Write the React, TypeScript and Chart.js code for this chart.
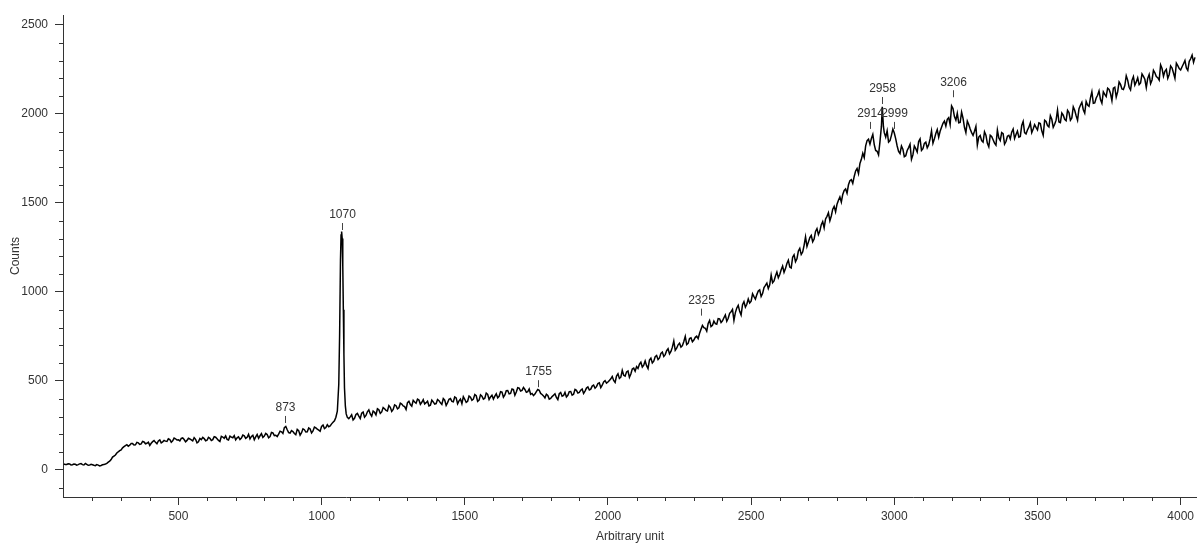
import { useEffect, useRef } from "react";
import { Chart, registerables } from "chart.js";

Chart.register(...registerables);

// Raman shift (x) sampling points
const shift = [
  100, 110, 120, 130, 140, 150, 160, 170, 180, 190,
  200, 210, 220, 230, 240, 250, 260, 270, 280, 290,
  300, 310, 320, 330, 340, 350, 360, 370, 380, 390,
  400, 410, 420, 430, 440, 450, 460, 470, 480, 490,
  500, 510, 520, 530, 540, 550, 560, 570, 580, 590,
  600, 610, 620, 630, 640, 650, 660, 670, 680, 690,
  700, 710, 720, 730, 740, 750, 760, 770, 780, 790,
  800, 810, 820, 830, 840, 850, 860, 870, 880, 890,
  900, 910, 920, 930, 940, 950, 960, 970, 980, 990,
  1000, 1010, 1020, 1030, 1040,
  1045, 1050, 1055, 1060, 1063, 1066, 1068, 1070, 1072, 1074, 1076, 1078, 1080, 1083, 1086, 1090,
  1100, 1110, 1120, 1130, 1140, 1150, 1160, 1170, 1180, 1190,
  1200, 1210, 1220, 1230, 1240, 1250, 1260, 1270, 1280, 1290,
  1300, 1310, 1320, 1330, 1340, 1350, 1360, 1370, 1380, 1390,
  1400, 1410, 1420, 1430, 1440, 1450, 1460, 1470, 1480, 1490,
  1500, 1510, 1520, 1530, 1540, 1550, 1560, 1570, 1580, 1590,
  1600, 1610, 1620, 1630, 1640, 1650, 1660, 1670, 1680, 1690,
  1700, 1710, 1720, 1730, 1740, 1750, 1760, 1770, 1780, 1790,
  1800, 1810, 1820, 1830, 1840, 1850, 1860, 1870, 1880, 1890,
  1900, 1910, 1920, 1930, 1940, 1950, 1960, 1970, 1980, 1990,
  2000, 2010, 2020, 2030, 2040, 2050, 2060, 2070, 2080, 2090,
  2100, 2110, 2120, 2130, 2140, 2150, 2160, 2170, 2180, 2190,
  2200, 2210, 2220, 2230, 2240, 2250, 2260, 2270, 2280, 2290,
  2300, 2310, 2320, 2330, 2340, 2350, 2360, 2370, 2380, 2390,
  2400, 2410, 2420, 2430, 2440, 2450, 2460, 2470, 2480, 2490,
  2500, 2510, 2520, 2530, 2540, 2550, 2560, 2570, 2580, 2590,
  2600, 2610, 2620, 2630, 2640, 2650, 2660, 2670, 2680, 2690,
  2700, 2710, 2720, 2730, 2740, 2750, 2760, 2770, 2780, 2790,
  2800, 2810, 2820, 2830, 2840, 2850, 2860, 2870, 2880, 2890,
  2900, 2910, 2920, 2930, 2940, 2950,
  2955, 2958, 2962,
  2970, 2980, 2990,
  3000, 3010, 3020, 3030, 3040, 3050, 3060, 3070, 3080, 3090,
  3100, 3110, 3120, 3130, 3140, 3150, 3160, 3170, 3180, 3190,
  3200, 3210, 3220, 3230, 3240, 3250, 3260, 3270, 3280, 3290,
  3300, 3310, 3320, 3330, 3340, 3350, 3360, 3370, 3380, 3390,
  3400, 3410, 3420, 3430, 3440, 3450, 3460, 3470, 3480, 3490,
  3500, 3510, 3520, 3530, 3540, 3550, 3560, 3570, 3580, 3590,
  3600, 3610, 3620, 3630, 3640, 3650, 3660, 3670, 3680, 3690,
  3700, 3710, 3720, 3730, 3740, 3750, 3760, 3770, 3780, 3790,
  3800, 3810, 3820, 3830, 3840, 3850, 3860, 3870, 3880, 3890,
  3900, 3910, 3920, 3930, 3940, 3950, 3960, 3970, 3980, 3990,
  4000, 4010, 4020, 4030, 4040, 4050,
];

// Counts (same order as shift)
const counts = [
  33, 31, 34, 29, 32, 30, 36, 28, 31, 27,
  29, 24, 27, 25, 30, 37, 49, 72, 84, 102,
  113, 131, 142, 139, 148, 141, 152, 146, 157, 150,
  138, 159, 155, 163, 152, 166, 160, 171, 164, 175,
  169, 177, 171, 166, 174, 163, 172, 158, 170, 176,
  167, 178, 170, 184, 166, 189, 178, 172, 190, 181,
  169, 186, 179, 192, 183, 174, 195, 186, 178, 204,
  190, 199, 187, 208, 195, 201, 214, 238, 226, 207,
  216, 198, 221, 209, 226, 214, 230, 219, 236, 224,
  245, 232, 254, 247, 268,
  276, 296, 330, 480, 760, 1180, 1320, 1340, 1300, 1150, 900, 650, 460, 360, 315, 295,
  298, 281, 312, 302, 319, 296, 327, 315, 331, 309,
  338, 326, 344, 331, 352, 340, 361, 349, 370, 356,
  378, 367, 391, 375, 393, 380, 371, 386, 364, 382,
  373, 389, 368, 392, 378, 401, 383, 405, 388, 372,
  397, 386, 409, 398, 417, 392, 414, 403, 425, 410,
  398, 428, 414, 437, 421, 446, 430, 452, 438, 460,
  447, 452, 440, 425, 418, 440, 448, 424, 405, 418,
  402, 420, 407, 428, 414, 436, 419, 441, 425, 447,
  436, 455, 443, 466, 454, 477, 468, 489, 476, 502,
  494, 512, 503, 528, 514, 560, 527, 556, 539, 572,
  581, 594, 578, 612, 570, 628, 611, 643, 629, 662,
  648, 681, 666, 725, 684, 712, 698, 750, 711, 742,
  730, 752, 768, 812, 796, 823, 805, 836, 819, 849,
  838, 871, 852, 889, 840, 910, 891, 928, 915, 960,
  948, 974, 985, 1012, 991, 1037, 1019, 1095, 1062, 1112,
  1098, 1146, 1131, 1178, 1135, 1209, 1186, 1245, 1224, 1310,
  1280, 1318, 1297, 1356, 1342, 1395, 1410, 1445, 1427, 1481,
  1493, 1534, 1548, 1579, 1602, 1631, 1649, 1694, 1722, 1779,
  1821, 1858, 1862, 1828, 1790, 1845,
  1930, 2040, 1930,
  1870, 1842, 1880,
  1893, 1820, 1778, 1802, 1765, 1811, 1745, 1820, 1786, 1860,
  1805, 1842, 1826, 1905, 1860, 1912, 1903, 1948, 1932, 1979,
  2045, 1985, 2004, 1952, 1976, 1895, 1941, 1895, 1903, 1825,
  1879, 1842, 1881, 1815, 1873, 1836, 1910, 1851, 1889, 1845,
  1880, 1898, 1862, 1904, 1874, 1958, 1888, 1926, 1895, 1940,
  1911, 1946, 1880, 1958, 1927, 1970, 1942, 2022, 1951, 1993,
  1962, 2008, 1978, 2021, 1965, 2049, 2024, 2070, 2043, 2125,
  2062, 2105, 2081, 2124, 2098, 2138, 2075, 2150, 2124, 2166,
  2137, 2215, 2150, 2189, 2162, 2203, 2174, 2211, 2148, 2222,
  2191, 2231, 2204, 2275, 2212, 2251, 2222, 2258, 2200, 2271,
  2247, 2282, 2259, 2296, 2330, 2318,
];

// Additional in-between samples (half steps)
const shiftMid = [
  105, 115, 125, 135, 145, 155, 165, 175, 185, 195,
  205, 215, 225, 235, 245, 255, 265, 275, 285, 295,
  305, 315, 325, 335, 345, 355, 365, 375, 385, 395,
  405, 415, 425, 435, 445, 455, 465, 475, 485, 495,
  505, 515, 525, 535, 545, 555, 565, 575, 585, 595,
  605, 615, 625, 635, 645, 655, 665, 675, 685, 695,
  705, 715, 725, 735, 745, 755, 765, 775, 785, 795,
  805, 815, 825, 835, 845, 855, 865, 875, 885, 895,
  905, 915, 925, 935, 945, 955, 965, 975, 985, 995,
  1005, 1015, 1025, 1035,
  1095,
  1105, 1115, 1125, 1135, 1145, 1155, 1165, 1175, 1185, 1195,
  1205, 1215, 1225, 1235, 1245, 1255, 1265, 1275, 1285, 1295,
  1305, 1315, 1325, 1335, 1345, 1355, 1365, 1375, 1385, 1395,
  1405, 1415, 1425, 1435, 1445, 1455, 1465, 1475, 1485, 1495,
  1505, 1515, 1525, 1535, 1545, 1555, 1565, 1575, 1585, 1595,
  1605, 1615, 1625, 1635, 1645, 1655, 1665, 1675, 1685, 1695,
  1705, 1715, 1725, 1735, 1745, 1755, 1765, 1775, 1785, 1795,
  1805, 1815, 1825, 1835, 1845, 1855, 1865, 1875, 1885, 1895,
  1905, 1915, 1925, 1935, 1945, 1955, 1965, 1975, 1985, 1995,
  2005, 2015, 2025, 2035, 2045, 2055, 2065, 2075, 2085, 2095,
  2105, 2115, 2125, 2135, 2145, 2155, 2165, 2175, 2185, 2195,
  2205, 2215, 2225, 2235, 2245, 2255, 2265, 2275, 2285, 2295,
  2305, 2315, 2325, 2335, 2345, 2355, 2365, 2375, 2385, 2395,
  2405, 2415, 2425, 2435, 2445, 2455, 2465, 2475, 2485, 2495,
  2505, 2515, 2525, 2535, 2545, 2555, 2565, 2575, 2585, 2595,
  2605, 2615, 2625, 2635, 2645, 2655, 2665, 2675, 2685, 2695,
  2705, 2715, 2725, 2735, 2745, 2755, 2765, 2775, 2785, 2795,
  2805, 2815, 2825, 2835, 2845, 2855, 2865, 2875, 2885, 2895,
  2905, 2915, 2925, 2935, 2945,
  2965,
  2975, 2985, 2995,
  3005, 3015, 3025, 3035, 3045, 3055, 3065, 3075, 3085, 3095,
  3105, 3115, 3125, 3135, 3145, 3155, 3165, 3175, 3185, 3195,
  3205, 3215, 3225, 3235, 3245, 3255, 3265, 3275, 3285, 3295,
  3305, 3315, 3325, 3335, 3345, 3355, 3365, 3375, 3385, 3395,
  3405, 3415, 3425, 3435, 3445, 3455, 3465, 3475, 3485, 3495,
  3505, 3515, 3525, 3535, 3545, 3555, 3565, 3575, 3585, 3595,
  3605, 3615, 3625, 3635, 3645, 3655, 3665, 3675, 3685, 3695,
  3705, 3715, 3725, 3735, 3745, 3755, 3765, 3775, 3785, 3795,
  3805, 3815, 3825, 3835, 3845, 3855, 3865, 3875, 3885, 3895,
  3905, 3915, 3925, 3935, 3945, 3955, 3965, 3975, 3985, 3995,
  4005, 4015, 4025, 4035, 4045,
];

const countsMid = [
  30, 35, 28, 33, 27, 34, 30, 36, 26, 32,
  26, 30, 23, 29, 33, 44, 58, 78, 95, 108,
  124, 137, 133, 148, 140, 155, 143, 160, 147, 156,
  150, 165, 147, 169, 158, 162, 175, 156, 179, 168,
  163, 180, 158, 178, 169, 181, 152, 177, 183, 164,
  183, 165, 187, 175, 160, 185, 191, 168, 184, 193,
  180, 171, 196, 177, 200, 188, 170, 199, 192, 183,
  205, 181, 211, 193, 188, 218, 205, 244, 210, 221,
  205, 228, 195, 231, 213, 236, 208, 241, 229, 218,
  252, 238, 243, 259,
  288,
  310, 290, 318, 289, 325, 306, 338, 302, 324, 344,
  318, 351, 335, 362, 329, 366, 343, 375, 360, 340,
  386, 358, 382, 398, 369, 395, 378, 360, 392, 370,
  396, 377, 401, 362, 397, 385, 410, 372, 398, 412,
  380, 415, 391, 424, 385, 422, 398, 432, 396, 420,
  415, 405, 440, 409, 445, 428, 455, 420, 462, 443,
  463, 436, 455, 430, 426, 452, 430, 416, 425, 398,
  412, 428, 395, 435, 418, 410, 440, 420, 452, 432,
  448, 430, 460, 449, 471, 459, 485, 462, 495, 488,
  503, 525, 492, 540, 521, 532, 551, 520, 567, 555,
  570, 605, 589, 586, 618, 601, 636, 620, 655, 638,
  670, 652, 690, 672, 703, 690, 722, 704, 738, 720,
  745, 738, 790, 800, 780, 840, 812, 822, 850, 828,
  855, 835, 880, 902, 884, 925, 870, 945, 931, 938,
  990, 960, 1005, 975, 1025, 1050, 1040, 1052, 1090, 1080,
  1125, 1110, 1160, 1140, 1195, 1170, 1230, 1210, 1262, 1255,
  1305, 1282, 1340, 1322, 1378, 1360, 1425, 1400, 1465, 1450,
  1515, 1505, 1570, 1555, 1625, 1610, 1680, 1665, 1745, 1755,
  1850, 1830, 1885, 1795, 1770,
  1895,
  1905, 1850, 1915,
  1860, 1790, 1820, 1760, 1795, 1830, 1770, 1805, 1845, 1795,
  1835, 1810, 1860, 1835, 1890, 1870, 1925, 1960, 1970, 1940,
  2030, 1965, 1950, 2010, 1925, 1960, 1915, 1880, 1930, 1870,
  1850, 1900, 1835, 1880, 1855, 1825, 1865, 1895, 1830, 1875,
  1860, 1915, 1885, 1870, 1935, 1895, 1910, 1950, 1915, 1925,
  1950, 1905, 1965, 1935, 1990, 1925, 1965, 1955, 2005, 1970,
  2020, 1965, 2040, 1990, 2030, 2065, 2005, 2050, 2090, 2060,
  2090, 2130, 2060, 2110, 2145, 2115, 2145, 2095, 2180, 2140,
  2160, 2190, 2135, 2210, 2180, 2165, 2225, 2195, 2200, 2170,
  2245, 2210, 2190, 2255, 2240, 2200, 2270, 2230, 2285, 2255,
  2265, 2300, 2245, 2310, 2290,
];

// Peak annotations
const peakPositions = [873, 1070, 1755, 2325, 2914, 2958, 2999, 3206];
const peakLabels = ["873", "1070", "1755", "2325", "2914", "2958", "2999", "3206"];
const peakLabelHeights = [264, 1348, 465, 867, 1916, 2056, 1916, 2094];

// Axis ticks
const xMajorTicks = [500, 1000, 1500, 2000, 2500, 3000, 3500, 4000];
const yMajorTicks = [0, 500, 1000, 1500, 2000, 2500];
const MINOR_STEP = 100;
const MAJOR_STEP = 500;

const X_MIN = 97;
const X_MAX = 4057;
const Y_MIN = -152;
const Y_MAX = 2556;

const FONT = '"Liberation Sans", Arial, sans-serif';
const AXIS_COLOR = "#333333";
const TEXT_COLOR = "#333333";

const annotationsPlugin = {
  id: "minorTicksAndPeaks",
  afterDraw(chart: any) {
    const { ctx, chartArea, scales } = chart;
    const x = scales.x;
    const y = scales.y;
    ctx.save();
    ctx.strokeStyle = AXIS_COLOR;
    ctx.lineWidth = 1;
    ctx.beginPath();
    for (let v = Math.ceil(X_MIN / MINOR_STEP) * MINOR_STEP; v <= X_MAX; v += MINOR_STEP) {
      if (v % MAJOR_STEP === 0) continue;
      const px = Math.round(x.getPixelForValue(v)) + 0.5;
      if (px < chartArea.left + 2) continue;
      ctx.moveTo(px, chartArea.bottom);
      ctx.lineTo(px, chartArea.bottom + 4);
    }
    for (let v = Math.ceil(Y_MIN / MINOR_STEP) * MINOR_STEP; v <= Y_MAX; v += MINOR_STEP) {
      if (v % MAJOR_STEP === 0) continue;
      const py = Math.round(y.getPixelForValue(v)) + 0.5;
      ctx.moveTo(chartArea.left, py);
      ctx.lineTo(chartArea.left - 4, py);
    }
    ctx.stroke();

    ctx.font = `12px ${FONT}`;
    ctx.fillStyle = TEXT_COLOR;
    ctx.textAlign = "center";
    ctx.textBaseline = "middle";
    ctx.strokeStyle = "#444444";
    for (let i = 0; i < peakPositions.length; i++) {
      const px = Math.round(x.getPixelForValue(peakPositions[i])) + 0.5;
      const pb = y.getPixelForValue(peakLabelHeights[i]);
      const pt = pb - 7;
      ctx.beginPath();
      ctx.moveTo(px, pb);
      ctx.lineTo(px, pt);
      ctx.stroke();
      ctx.fillText(peakLabels[i], px, pt - 8);
    }
    ctx.restore();
  },
};

export default function App() {
  const canvasRef = useRef<HTMLCanvasElement | null>(null);

  useEffect(() => {
    if (!canvasRef.current) return;
    Chart.defaults.font.family = FONT;
    const points: { x: number; y: number }[] = [];
    const n1 = Math.min(shift.length, counts.length);
    for (let i = 0; i < n1; i++) points.push({ x: shift[i], y: counts[i] });
    const n2 = Math.min(shiftMid.length, countsMid.length);
    for (let i = 0; i < n2; i++) points.push({ x: shiftMid[i], y: countsMid[i] });
    points.sort((a, b) => a.x - b.x);

    const chart = new Chart(canvasRef.current, {
      type: "line",
      data: {
        datasets: [
          {
            data: points,
            borderColor: "#000000",
            borderWidth: 1.5,
            pointRadius: 0,
            tension: 0,
            fill: false,
          },
        ],
      },
      options: {
        animation: false,
        responsive: false,
        events: [],
        layout: { padding: { top: 15, right: 0, left: 0, bottom: 0 } },
        plugins: {
          legend: { display: false },
          tooltip: { enabled: false },
        },
        scales: {
          x: {
            type: "linear",
            min: X_MIN,
            max: X_MAX,
            bounds: "data",
            afterFit: (s: any) => {
              s.height = 47;
            },
            afterBuildTicks: (s: any) => {
              s.ticks = xMajorTicks.map((v) => ({ value: v }));
            },
            ticks: {
              color: TEXT_COLOR,
              font: { size: 12, family: FONT },
              padding: 4,
              maxRotation: 0,
              autoSkip: false,
              callback: (v: any) => String(v),
            },
            grid: {
              drawOnChartArea: false,
              drawTicks: true,
              tickLength: 8,
              color: AXIS_COLOR,
            },
            border: { display: true, color: AXIS_COLOR, width: 1 },
            title: {
              display: true,
              text: "Arbitrary unit",
              color: TEXT_COLOR,
              font: { size: 12, family: FONT },
              padding: { top: 0, bottom: 0 },
            },
          },
          y: {
            type: "linear",
            min: Y_MIN,
            max: Y_MAX,
            bounds: "data",
            afterFit: (s: any) => {
              s.width = 63;
            },
            afterBuildTicks: (s: any) => {
              s.ticks = yMajorTicks.map((v) => ({ value: v }));
            },
            ticks: {
              color: TEXT_COLOR,
              font: { size: 12, family: FONT },
              padding: 7,
              autoSkip: false,
              callback: (v: any) => String(v),
            },
            grid: {
              drawOnChartArea: false,
              drawTicks: true,
              tickLength: 8,
              color: AXIS_COLOR,
            },
            border: { display: true, color: AXIS_COLOR, width: 1 },
            title: {
              display: true,
              text: "Counts",
              color: TEXT_COLOR,
              font: { size: 12, family: FONT },
              padding: { top: 8, bottom: 0 },
            },
          },
        },
      },
      plugins: [annotationsPlugin],
    });
    return () => chart.destroy();
  }, []);

  return (
    <div style={{ position: "absolute", left: 0, top: 0, width: 1198, height: 544, background: "#ffffff" }}>
      <canvas ref={canvasRef} width={1198} height={544} style={{ display: "block" }} />
    </div>
  );
}
